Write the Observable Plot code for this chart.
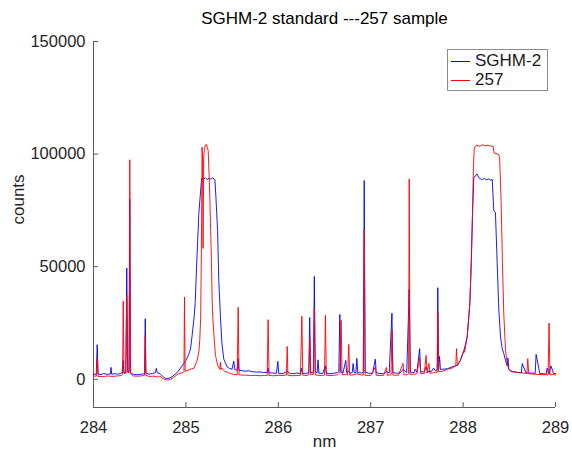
<!DOCTYPE html>
<html>
<head>
<meta charset="utf-8">
<script src="https://cdn.jsdelivr.net/npm/d3@7"></script>
<script src="https://cdn.jsdelivr.net/npm/@observablehq/plot@0.6"></script>
<style>
  html, body { margin: 0; padding: 0; background: #fff; }
  #wrap { position: relative; width: 572px; height: 452px; font-family: "Liberation Sans", Arial, Helvetica, sans-serif; }
  #legend { position: absolute; left: 447px; top: 49px; width: 99px; height: 40px; border: 1px solid #8c8c8c; background: #fff; box-sizing: content-box; }
  .lg-row { position: absolute; left: 0; height: 20px; display: flex; align-items: center; font-size: 17px; color: #1a1a1a; }
  .lg-line { width: 19px; height: 0; border-top: 1px solid; margin-left: 3px; margin-right: 5px; }
</style>
</head>
<body>
<div id="wrap"></div>
<script>
const titleText = "SGHM-2 standard ---257 sample";
const xLabel = "nm";
const yLabel = "counts";
const seriesNames = ["SGHM-2", "257"];
const seriesColors = ["#0000ff", "#ff0000"];
const xTicks = [284, 285, 286, 287, 288, 289];
const yTicks = [0, 50000, 100000, 150000];
const xDomain = [284, 289];
const yDomain = [-12500, 150000];

// SGHM-2 standard (blue)
const sghmX = [284.000,284.030,284.040,284.050,284.080,284.110,284.150,284.183,284.190,284.197,284.230,284.260,284.290,284.310,284.320,284.330,284.350,284.360,284.370,284.385,284.392,284.400,284.430,284.470,284.500,284.540,284.553,284.560,284.567,284.600,284.640,284.670,284.680,284.690,284.720,284.750,284.780,284.820,284.850,284.880,284.910,284.950,285.000,285.030,285.050,285.070,285.090,285.100,285.120,285.140,285.160,285.170,285.190,285.210,285.230,285.250,285.270,285.290,285.314,285.325,285.343,285.356,285.374,285.390,285.410,285.447,285.470,285.500,285.518,285.530,285.555,285.566,285.575,285.600,285.640,285.680,285.720,285.760,285.800,285.840,285.880,285.890,285.900,285.940,285.980,285.995,286.005,286.040,286.060,286.096,286.130,286.170,286.200,286.240,286.250,286.260,286.300,286.330,286.340,286.350,286.380,286.390,286.400,286.420,286.430,286.440,286.480,286.510,286.520,286.560,286.600,286.640,286.655,286.666,286.676,286.700,286.730,286.740,286.760,286.775,286.800,286.810,286.820,286.840,286.850,286.860,286.900,286.920,286.930,286.940,286.980,287.020,287.050,287.060,287.100,287.140,287.170,287.200,287.230,287.240,287.280,287.320,287.350,287.390,287.417,287.430,287.470,287.480,287.500,287.530,287.540,287.580,287.600,287.620,287.660,287.680,287.700,287.720,287.726,287.735,287.745,287.755,287.780,287.830,287.880,287.936,287.970,288.008,288.044,288.073,288.088,288.102,288.116,288.140,288.150,288.170,288.190,288.210,288.230,288.250,288.280,288.300,288.315,288.332,288.350,288.369,288.387,288.405,288.423,288.440,288.459,288.477,288.485,288.495,288.520,288.560,288.600,288.630,288.640,288.680,288.720,288.770,288.780,288.790,288.830,288.870,288.890,288.900,288.910,288.930,288.950,288.980,289.000];
const sghmY = [2200,2300,15400,2400,2100,2600,2200,2400,5300,2300,2500,2300,2600,2900,8400,3000,3000,49400,3500,3500,80000,3000,2200,2000,2200,2400,2600,26900,2800,2300,2600,3000,4900,3000,2500,1200,400,500,1200,2200,3200,5500,8400,11000,13500,20400,28000,33700,54300,73600,84000,89200,88800,89500,88700,89300,88900,89400,88600,80900,66100,43900,27600,16000,9000,5500,4900,4500,8100,4300,4100,9200,4000,3900,3600,3800,3400,3200,3300,3000,3100,5000,2900,2800,2700,8000,2600,2500,2800,3500,2600,2500,2800,2600,5000,2600,2700,2800,27400,3000,3200,45700,3400,2800,8700,2700,2600,6000,2700,2500,2700,3000,3500,28800,3200,2800,8400,2900,3500,2700,3000,7000,3200,2900,9300,3000,2800,3000,88300,3200,2700,2600,9000,2900,2600,2500,3500,2800,29400,3000,2700,2900,4500,3000,40000,3200,3000,4500,3200,13600,3400,3300,5500,3400,3600,5000,3800,4200,40700,4500,10200,4400,4500,4700,5500,6200,8400,12500,18800,33600,51400,73500,89700,90500,91200,89500,89000,88700,89200,88600,89000,88400,88800,75000,74000,51400,30600,18800,13700,11500,8400,6000,9500,4400,3400,3200,3000,2900,7000,2900,2800,2700,2600,11100,2600,2500,2400,2500,5000,2400,6000,2500,2600,2400];

// 257 sample (red)
const s257X = [284.000,284.030,284.040,284.050,284.100,284.150,284.200,284.260,284.300,284.315,284.322,284.330,284.350,284.360,284.370,284.385,284.393,284.402,284.430,284.480,284.530,284.553,284.560,284.567,284.600,284.650,284.700,284.720,284.740,284.770,284.800,284.830,284.870,284.920,284.970,284.979,284.985,284.992,285.020,285.060,285.086,285.122,285.140,285.150,285.160,285.168,285.175,285.180,285.186,285.192,285.200,285.210,285.223,285.232,285.241,285.250,285.259,285.266,285.277,285.284,285.291,285.302,285.320,285.345,285.368,285.374,285.380,285.390,285.420,285.447,285.480,285.518,285.555,285.566,285.575,285.620,285.660,285.700,285.750,285.800,285.850,285.880,285.890,285.900,285.950,286.000,286.050,286.088,286.096,286.104,286.150,286.200,286.240,286.255,286.265,286.300,286.330,286.340,286.350,286.380,286.390,286.400,286.440,286.480,286.500,286.510,286.520,286.560,286.600,286.640,286.666,286.680,286.690,286.730,286.750,286.763,286.772,286.810,286.850,286.900,286.920,286.930,286.940,287.000,287.050,287.060,287.100,287.140,287.170,287.180,287.220,287.230,287.240,287.300,287.350,287.360,287.400,287.410,287.417,287.425,287.470,287.500,287.530,287.540,287.580,287.600,287.610,287.630,287.640,287.680,287.720,287.726,287.735,287.780,287.830,287.880,287.920,287.929,287.938,287.970,288.000,288.008,288.016,288.044,288.073,288.088,288.102,288.112,288.122,288.150,288.180,288.210,288.240,288.270,288.300,288.325,288.335,288.380,288.395,288.410,288.426,288.440,288.459,288.477,288.495,288.530,288.600,288.650,288.690,288.700,288.710,288.760,288.800,288.850,288.920,288.930,288.940,288.970,289.000];
const s257Y = [1500,1400,9500,1300,1200,1500,1300,1500,1700,2200,34700,2500,2800,37300,3000,3000,97500,2500,1500,1400,1600,1800,19500,1800,1300,1400,1000,1500,600,-100,-300,-100,1000,2500,3000,3500,36500,3600,4000,4700,4900,8400,12000,17300,27600,60000,103100,98000,58100,99000,101600,104000,104300,103000,101600,92000,80900,69200,51400,35000,27600,20400,10600,6200,4500,7700,4300,5000,3500,3200,2600,2200,2000,32000,2000,1900,1800,1700,1800,1600,1700,1800,26500,1700,1600,1800,1700,2000,14600,1800,1600,1700,1800,28000,1900,1700,2000,18200,2000,2200,31500,2000,1800,1700,1900,28400,1800,1700,1800,2000,3000,26200,2000,2200,1900,15500,1900,2000,2500,1900,2000,66400,1800,1700,5500,1800,1700,1800,5300,1800,2000,21700,1900,1800,7100,2000,2100,2500,89000,2200,2300,2500,9600,2600,2600,10600,2800,7100,2700,3000,3200,29900,3400,3600,4500,5000,6000,13600,6000,8400,12000,12900,12000,18800,33600,51400,73500,95000,103100,104000,103500,104200,103700,104000,103500,103500,100500,100000,98600,80900,51400,29300,12900,7100,4400,3600,3000,2800,2600,9200,2500,2300,2200,2100,2000,25000,2000,2200,1900];

const rows = [
  ...sghmX.map((x, i) => ({series: seriesNames[0], x, y: sghmY[i]})),
  ...s257X.map((x, i) => ({series: seriesNames[1], x, y: s257Y[i]}))
];

const font = '"Liberation Sans", Arial, Helvetica, sans-serif';
const axisGray = "#5a5a5a";
const textDark = "#262626";

const chart = Plot.plot({
  width: 572,
  height: 452,
  marginLeft: 93,
  marginRight: 17,
  marginTop: 41,
  marginBottom: 45,
  style: {fontFamily: font, fontSize: "16.5px", background: "#fff", color: textDark},
  x: {domain: xDomain},
  y: {domain: yDomain},
  color: {domain: seriesNames, range: seriesColors},
  marks: [
    Plot.ruleX([xDomain[0]], {stroke: axisGray, strokeWidth: 1}),
    Plot.ruleY([yDomain[0]], {stroke: axisGray, strokeWidth: 1}),
    Plot.line(rows.filter(d => d.series === seriesNames[0]), {x: "x", y: "y", stroke: seriesColors[0], strokeWidth: 0.9}),
    Plot.line(rows.filter(d => d.series === seriesNames[1]), {x: "x", y: "y", stroke: seriesColors[1], strokeWidth: 0.9}),
    Plot.axisX({ticks: xTicks, tickFormat: d => String(d), tickSize: -5, tickPadding: 19, stroke: axisGray, fill: textDark, label: null, fontSize: 16.5}),
    Plot.axisY({ticks: yTicks, tickFormat: d => String(d), tickSize: -5, tickPadding: 13, stroke: axisGray, fill: textDark, label: null, fontSize: 16.5}),
    Plot.text([xLabel], {text: d => d, frameAnchor: "bottom", dy: 34, lineAnchor: "middle", fontSize: 17, fill: textDark}),
    Plot.text([yLabel], {text: d => d, frameAnchor: "left", dx: -75, rotate: -90, lineAnchor: "middle", fontSize: 17, fill: textDark}),
    Plot.text([titleText], {text: d => d, frameAnchor: "top", dy: -23, lineAnchor: "middle", fontSize: 17, fill: "#000"})
  ]
});

const wrap = document.getElementById("wrap");
wrap.appendChild(chart);

const legend = document.createElement("div");
legend.id = "legend";
seriesNames.forEach((name, i) => {
  const row = document.createElement("div");
  row.className = "lg-row";
  row.style.top = (i * 19 + 1) + "px";
  const ln = document.createElement("div");
  ln.className = "lg-line";
  ln.style.borderTopColor = seriesColors[i];
  const tx = document.createElement("span");
  tx.textContent = name;
  row.appendChild(ln);
  row.appendChild(tx);
  legend.appendChild(row);
});
wrap.appendChild(legend);
</script>
</body>
</html>
